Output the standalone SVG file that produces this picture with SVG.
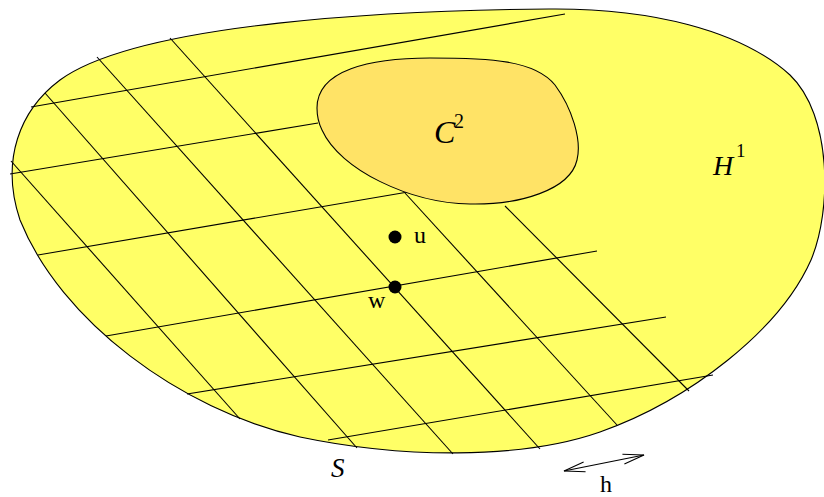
<svg xmlns="http://www.w3.org/2000/svg" width="824" height="497" viewBox="0 0 824 497">
<style>
.ln{stroke:#000;stroke-width:1.1;fill:none}
.cal{font-family:"Liberation Serif",serif;font-style:italic;fill:#000}
.rm{font-family:"Liberation Serif",serif;fill:#000}
</style>
<defs>
<marker id="ah" viewBox="-22 -7 24 14" refX="0" refY="0" markerWidth="24" markerHeight="14" markerUnits="userSpaceOnUse" orient="auto-start-reverse">
<path d="M-21,-5 L0,0 L-21,5" fill="none" stroke="#000" stroke-width="1.1"/>
</marker>
</defs>
<rect width="824" height="497" fill="#fff"/>
<g id="H1">
<path d="M549,9 C650,8 740,30 790,75 C832,115 832,210 811,260 C780,330 690,400 600,432 C520,460 400,458 300,437 C180,410 60,320 20,220 C0,160 20,110 60,80 C140,22 400,10 549,9 Z" fill="#ffff66" stroke="#000" stroke-width="1.1"/>
</g>
<g id="grid">
<line class="ln" x1="31" y1="107" x2="565" y2="14"/>
<line class="ln" x1="10" y1="174" x2="318" y2="123"/>
<line class="ln" x1="38" y1="255" x2="408" y2="192"/>
<line class="ln" x1="106" y1="336" x2="597" y2="251"/>
<line class="ln" x1="187" y1="394" x2="666" y2="317"/>
<line class="ln" x1="328" y1="440" x2="713" y2="375"/>
<line class="ln" x1="11" y1="161" x2="240" y2="419"/>
<line class="ln" x1="45" y1="93" x2="357" y2="448"/>
<line class="ln" x1="97" y1="57" x2="453" y2="454"/>
<line class="ln" x1="170" y1="38" x2="540" y2="449"/>
<line class="ln" x1="405" y1="193" x2="617" y2="425"/>
<line class="ln" x1="505" y1="206" x2="689" y2="391"/>
</g>
<g id="C2">
<path d="M317,108 C317,70 370,58 430,58 C490,58 535,60 555,85 C572,108 582,140 577,160 C570,190 520,205 470,204 C410,203 340,170 322,130 C318,122 317,115 317,108 Z" fill="#ffe366" stroke="#000" stroke-width="1.1"/>
<text class="cal" x="434" y="143" font-size="32">C</text>
<text class="rm" x="454" y="128" font-size="20">2</text>
</g>
<g id="H1-label">
<text class="cal" x="713" y="175" font-size="28">H</text>
<text class="rm" x="736" y="157" font-size="19">1</text>
</g>
<g id="u">
<circle cx="395" cy="237" r="6.5" fill="#000"/>
<text class="rm" x="414" y="243" font-size="24">u</text>
</g>
<g id="w">
<circle cx="395" cy="287" r="6.5" fill="#000"/>
<text class="rm" x="368" y="308" font-size="24">w</text>
</g>
<g id="S">
<text class="cal" x="331" y="477" font-size="27">S</text>
</g>
<g id="connectors">
<line class="ln" x1="564" y1="471" x2="644" y2="455" marker-start="url(#ah)" marker-end="url(#ah)"/>
<text class="rm" x="600" y="492" font-size="24">h</text>
</g>
</svg>
